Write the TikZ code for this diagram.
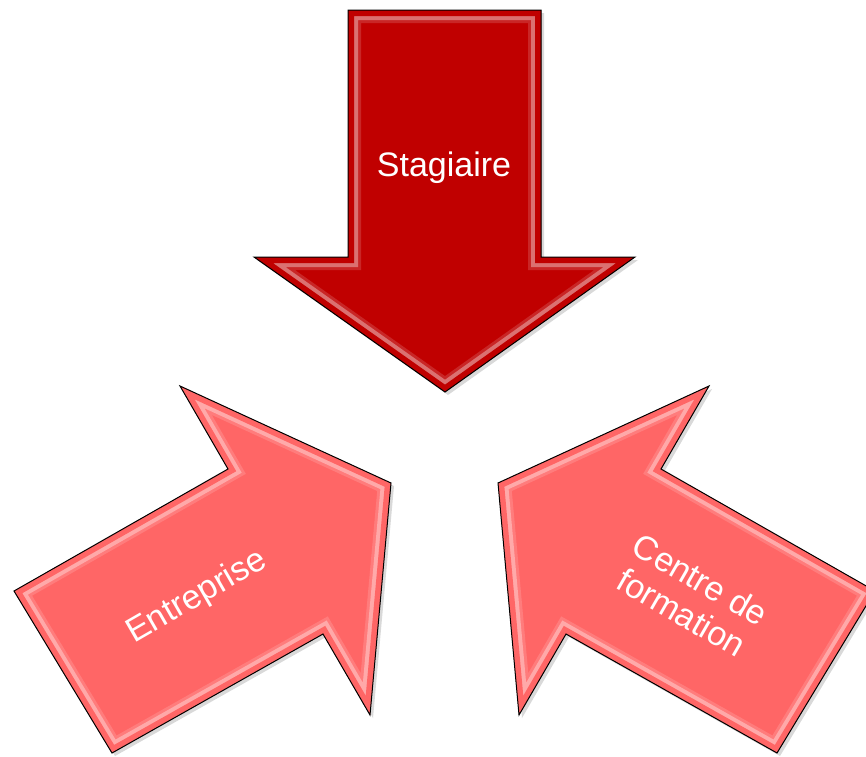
\documentclass[tikz,border=0pt]{standalone}
\usepackage{fontspec}
\setmainfont{Liberation Sans}
\usetikzlibrary{shadows}

\definecolor{stagred}{RGB}{192,0,0}
\definecolor{partred}{RGB}{255,102,102}

\tikzset{
	label/.style={text=white,align=center,font=\fontsize{34}{38}\selectfont},
}

% block arrow with a light bevel band along its edges
\newcommand{\bevelarrow}[2]{%
	\fill[#1,drop shadow={opacity=0.3,shadow xshift=3pt,shadow yshift=-3pt}] #2 -- cycle;
	\begin{scope}
		\clip #2 -- cycle;
		\draw[white,opacity=0.15,line width=26pt,line join=miter] #2 -- cycle;
		\draw[white,opacity=0.35,line width=20pt,line join=miter] #2 -- cycle;
		\draw[#1,line width=12pt,line join=miter] #2 -- cycle;
	\end{scope}
	\draw[black,line width=1pt,line join=miter] #2 -- cycle;
}

\begin{document}
\begin{tikzpicture}[x=1pt,y=-1pt]
	
	% frame..........................
	\clip (0,0) rectangle (866,756);
	
	% Stagiaire arrow (down)...........
	\bevelarrow{stagred}{(348,10) -- (541,10) -- (541,257) -- (635,257) -- (445,392) -- (254,257) -- (348,257)}
	
	% Entreprise arrow (up right).......
	\bevelarrow{partred}{(14,591) -- (228,469) -- (180,386) -- (391,483) -- (370,715) -- (323,634) -- (112,753)}
	
	% Centre de formation arrow (up left)
	\bevelarrow{partred}{(875,591) -- (661,469) -- (709,386) -- (498,483) -- (519,715) -- (566,634) -- (777,753)}
	
	% labels..............................
	\node [label] (stagiaire) at (444,168) {Stagiaire};
	\node [label,rotate=30] (entreprise) at (197,597) {Entreprise};
	\node [label,rotate=-30] (centre) at (691,596) {Centre de\\formation};
\end{tikzpicture}
\end{document}
